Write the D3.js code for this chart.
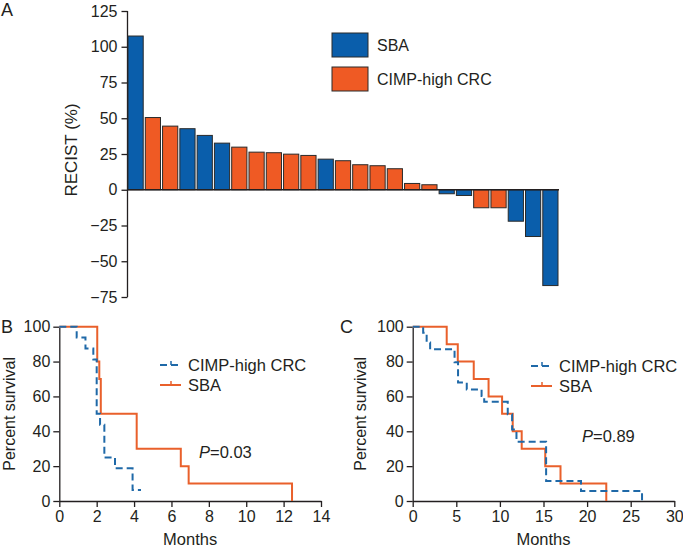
<!DOCTYPE html>
<html>
<head>
<meta charset="utf-8">
<script src="https://cdn.jsdelivr.net/npm/d3@7.9.0/dist/d3.min.js"></script>
<style>
  body { margin: 0; background: #fff; }
  svg { display: block; font-family: "Liberation Sans", Arial, sans-serif; }
  .axis path, .axis line { stroke: #231f20; stroke-width: 1.3; }
  .axis text { fill: #231f20; }
</style>
</head>
<body>
<svg id="chart" width="683" height="548"></svg>
<script>
// Panel A: waterfall of RECIST change, one bar per patient (sorted)
const recistValues = [107.5, 50.5, 44.5, 42.7, 38, 32.6, 29.8, 26.3, 25.9, 24.9, 24, 21.4, 20.3,
  17.5, 16.8, 14.7, 4.4, 3.5, -2.8, -4, -12.6, -12.6, -22, -32.7, -67];
const recistGroups = ["SBA", "CRC", "CRC", "SBA", "SBA", "SBA", "CRC", "CRC", "CRC", "CRC", "CRC", "SBA", "CRC",
  "CRC", "CRC", "CRC", "CRC", "CRC", "SBA", "SBA", "CRC", "CRC", "SBA", "SBA", "SBA"];
const recistTicks = [125, 100, 75, 50, 25, 0, -25, -50, -75];
const legendA = [["SBA", "SBA"], ["CRC", "CIMP-high CRC"]];

// Panel B: progression-free survival steps [month, percent]
const pfsCRC = [[0, 100], [0.93, 93.75], [1.4, 87.5], [1.82, 81.25], [2.0, 50], [2.18, 43.75],
  [2.41, 25], [2.98, 18.75], [3.92, 6.25], [4.37, 6.25]];
const pfsSBA = [[0, 100], [2.03, 80], [2.14, 70], [2.22, 50], [4.14, 30], [6.5, 20], [6.92, 10], [12.45, 0]];
const pfsTicksX = [0, 2, 4, 6, 8, 10, 12, 14];

// Panel C: overall survival steps [month, percent]
const osCRC = [[0, 100], [1.2, 96.5], [1.6, 91], [2.0, 87], [4.8, 79.6], [5.2, 68], [6.2, 64], [7.9, 60.2],
  [8.2, 57], [10.9, 49.7], [11.4, 41], [11.9, 34], [15.3, 11.5], [19.3, 5.7], [26.3, 0]];
const osSBA = [[0, 100], [3.9, 90], [5.17, 80], [7.0, 70], [8.7, 60], [10.25, 50], [11.47, 40],
  [12.5, 30], [15.2, 20], [16.95, 10], [22.2, 0]];
const osTicksX = [0, 5, 10, 15, 20, 25, 30];
const survTicksY = [0, 20, 40, 60, 80, 100];

const colors = { SBA: "#0a5eab", CRC: "#ef5a24" };
const lineColors = { SBA: "#e9602b", CRC: "#1f69a8" };

const svg = d3.select("#chart");

// ---------- Panel A ----------
const yA = d3.scaleLinear().domain([-75, 125]).range([297, 11]);
const xA = d3.scaleBand().domain(d3.range(recistValues.length)).range([128, 558]).paddingInner(0.12).paddingOuter(0);

svg.append("g").attr("class", "axis")
  .attr("transform", "translate(127.5,0)")
  .call(d3.axisLeft(yA).tickValues(recistTicks).tickSize(6).tickPadding(4)
    .tickFormat(d => d < 0 ? "\u2212" + Math.abs(d) : d))
  .call(g => g.selectAll("text").attr("font-size", 16))
  .call(g => g.select(".domain").attr("d", `M0,${yA(125)}V${yA(-75)}`));

svg.append("g").selectAll("rect")
  .data(recistValues)
  .join("rect")
  .attr("x", (d, i) => xA(i))
  .attr("width", xA.bandwidth())
  .attr("y", d => yA(Math.max(0, d)))
  .attr("height", d => Math.abs(yA(d) - yA(0)))
  .attr("fill", (d, i) => colors[recistGroups[i]])
  .attr("stroke", "#2a2a2a")
  .attr("stroke-width", 1);

svg.append("line")
  .attr("x1", 127.5).attr("x2", 559)
  .attr("y1", yA(0)).attr("y2", yA(0))
  .attr("stroke", "#231f20").attr("stroke-width", 1.3);

svg.append("text")
  .attr("transform", `translate(77,${(yA(125) + yA(-75)) / 2 - 4}) rotate(-90)`)
  .attr("text-anchor", "middle").attr("font-size", 17).attr("fill", "#231f20")
  .text("RECIST (%)");

svg.append("text").attr("x", 1).attr("y", 16).attr("font-size", 18).attr("fill", "#231f20").text("A");

const legA = svg.append("g").selectAll("g").data(legendA).join("g")
  .attr("transform", (d, i) => `translate(332,${33 + i * 34})`);
legA.append("rect").attr("width", 36).attr("height", 24)
  .attr("fill", d => colors[d[0]]).attr("stroke", "#2a2a2a").attr("stroke-width", 1);
legA.append("text").attr("x", 45).attr("y", 18).attr("font-size", 16).attr("fill", "#231f20").text(d => d[1]);

// ---------- Survival panels ----------
function survivalPanel(opts) {
  const x = d3.scaleLinear().domain(opts.xDomain).range(opts.xRange);
  const y = d3.scaleLinear().domain([0, 100]).range([501, 326.7]);
  const g = svg.append("g");

  g.append("g").attr("class", "axis")
    .attr("transform", `translate(0,${y(0)})`)
    .call(d3.axisBottom(x).tickValues(opts.xTicks).tickSize(6).tickPadding(4).tickSizeOuter(0))
    .call(a => a.selectAll("text").attr("font-size", 16));
  g.append("g").attr("class", "axis")
    .attr("transform", `translate(${x(0)},0)`)
    .call(d3.axisLeft(y).tickValues(survTicksY).tickSize(6).tickPadding(3).tickSizeOuter(0))
    .call(a => a.selectAll("text").attr("font-size", 16));

  const step = d3.line().x(d => x(d[0])).y(d => y(d[1])).curve(d3.curveStepAfter);

  g.append("path").datum(opts.sba)
    .attr("d", step).attr("fill", "none")
    .attr("stroke", lineColors.SBA).attr("stroke-width", 2);
  g.append("path").datum(opts.crc)
    .attr("d", step).attr("fill", "none")
    .attr("stroke", lineColors.CRC).attr("stroke-width", 2)
    .attr("stroke-dasharray", "7,4");

  // labels
  g.append("text")
    .attr("x", (opts.xRange[0] + opts.xRange[1]) / 2).attr("y", 545)
    .attr("text-anchor", "middle").attr("font-size", 16.5).attr("fill", "#231f20")
    .text("Months");
  g.append("text")
    .attr("transform", `translate(${opts.yLabelX},${(y(0) + y(100)) / 2}) rotate(-90)`)
    .attr("text-anchor", "middle").attr("font-size", 16).attr("fill", "#231f20")
    .text("Percent survival");
  g.append("text").attr("x", opts.letterX).attr("y", 333)
    .attr("font-size", 18).attr("fill", "#231f20").text(opts.letter);

  // legend
  const lg = g.append("g").attr("transform", `translate(${opts.legX},${opts.legY})`);
  lg.append("line").attr("x1", 0).attr("x2", 21).attr("y1", 0).attr("y2", 0)
    .attr("stroke", lineColors.CRC).attr("stroke-width", 2).attr("stroke-dasharray", "7,4");
  lg.append("line").attr("x1", 11).attr("x2", 11).attr("y1", 0).attr("y2", -4)
    .attr("stroke", lineColors.CRC).attr("stroke-width", 1.5);
  lg.append("text").attr("x", 28).attr("y", 5.5).attr("font-size", 16.5).attr("fill", "#231f20").text("CIMP-high CRC");
  lg.append("line").attr("x1", 0).attr("x2", 21).attr("y1", 20).attr("y2", 20)
    .attr("stroke", lineColors.SBA).attr("stroke-width", 2);
  lg.append("line").attr("x1", 11).attr("x2", 11).attr("y1", 20).attr("y2", 16)
    .attr("stroke", lineColors.SBA).attr("stroke-width", 1.5);
  lg.append("text").attr("x", 28).attr("y", 25.5).attr("font-size", 16.5).attr("fill", "#231f20").text("SBA");

  // P value
  const p = g.append("text").attr("x", opts.pX).attr("y", opts.pY)
    .attr("font-size", 16.5).attr("fill", "#231f20");
  p.append("tspan").attr("font-style", "italic").text("P");
  p.append("tspan").text("=" + opts.pValue);
}

survivalPanel({
  xDomain: [0, 14], xRange: [59.3, 321], xTicks: pfsTicksX,
  sba: pfsSBA, crc: pfsCRC, letter: "B", letterX: 1, yLabelX: 15,
  legX: 160, legY: 365, pX: 199, pY: 458, pValue: "0.03"
});
survivalPanel({
  xDomain: [0, 30], xRange: [412.7, 674.3], xTicks: osTicksX,
  sba: osSBA, crc: osCRC, letter: "C", letterX: 340, yLabelX: 366,
  legX: 531, legY: 366, pX: 582, pY: 442, pValue: "0.89"
});
</script>
</body>
</html>
